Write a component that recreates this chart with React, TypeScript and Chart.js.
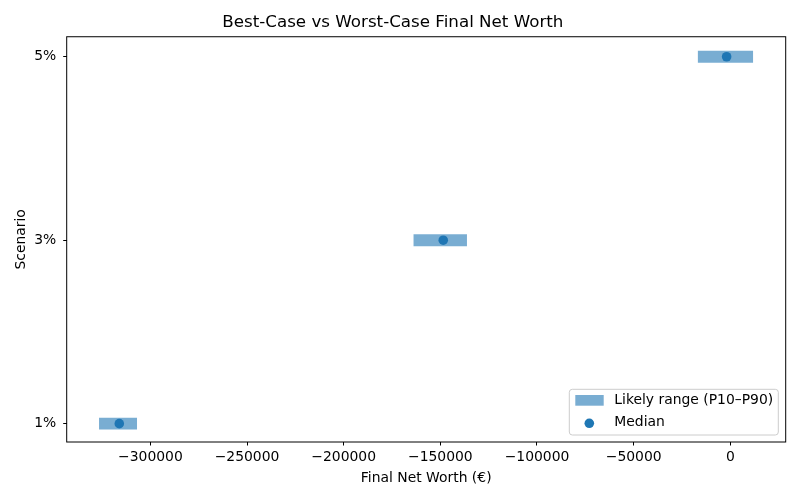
import { useEffect, useRef } from 'react'
import { Chart, registerables } from 'chart.js'

Chart.register(...registerables)

// scenario return rates (%) and final net worth stats (€)
const scenarios = [1, 3, 5]
const p10 = [-326400, -163700, -16600]
const p90 = [-307100, -136400, 11600]
const medians = [-316100, -148500, -1900]
const xTicks = [-300000, -250000, -200000, -150000, -100000, -50000, 0]

const BLUE = '#1f77b4'
const BLUE_A = 'rgba(31,119,180,0.6)'
const FONT = 'DejaVu Sans'

const fmt = (v: number) => (v < 0 ? '\u2212' + Math.abs(v) : String(v))

const frameAndLegend = {
  id: 'frameAndLegend',
  afterDraw(chart: any) {
    const { ctx, chartArea: a } = chart
    ctx.save()
    ctx.strokeStyle = '#000'
    ctx.lineWidth = 1
    ctx.strokeRect(a.left, a.top, a.right - a.left, a.bottom - a.top)

    // legend box, lower right
    const lx = a.right - 216.4
    const ly = a.bottom - 52.7
    const w = 209
    const h = 45.7
    const r = 3
    ctx.beginPath()
    ctx.moveTo(lx + r, ly)
    ctx.arcTo(lx + w, ly, lx + w, ly + h, r)
    ctx.arcTo(lx + w, ly + h, lx, ly + h, r)
    ctx.arcTo(lx, ly + h, lx, ly, r)
    ctx.arcTo(lx, ly, lx + w, ly, r)
    ctx.closePath()
    ctx.fillStyle = 'rgba(255,255,255,0.8)'
    ctx.fill()
    ctx.strokeStyle = '#cccccc'
    ctx.stroke()

    ctx.fillStyle = BLUE_A
    ctx.fillRect(lx + 6, ly + 5.7, 28.4, 10.7)
    ctx.fillStyle = BLUE
    ctx.beginPath()
    ctx.arc(lx + 20, ly + 34, 4.8, 0, Math.PI * 2)
    ctx.fill()

    ctx.fillStyle = '#000'
    ctx.font = `13.9px "${FONT}"`
    ctx.textBaseline = 'middle'
    ctx.textAlign = 'left'
    ctx.fillText('Likely range (P10\u2013P90)', lx + 45, ly + 11.5)
    ctx.fillText('Median', lx + 45, ly + 33)
    ctx.restore()
  },
}

const RangeChart = () => {
  const chartRef = useRef<HTMLCanvasElement>(null)

  useEffect(() => {
    if (!chartRef.current) return
    Chart.defaults.font.family = FONT
    Chart.defaults.color = '#000'

    const chart = new Chart(chartRef.current, {
      type: 'bar',
      data: {
        datasets: [
          {
            type: 'bar',
            label: 'Likely range (P10\u2013P90)',
            data: scenarios.map((s, i) => ({ y: s, x: [p10[i], p90[i]] })) as any,
            backgroundColor: BLUE_A,
            borderWidth: 0,
            barThickness: 11.2,
          },
          {
            type: 'scatter',
            label: 'Median',
            data: scenarios.map((s, i) => ({ x: medians[i], y: s })),
            backgroundColor: BLUE,
            borderWidth: 0,
            pointRadius: 4.8,
            pointHoverRadius: 4.8,
          } as any,
        ],
      },
      options: {
        indexAxis: 'y',
        animation: false,
        responsive: false,
        layout: { padding: { left: 0, right: 14.3, top: 0, bottom: 0 } },
        plugins: {
          legend: { display: false },
          tooltip: { enabled: false },
          title: {
            display: true,
            text: 'Best-Case vs Worst-Case Final Net Worth',
            font: { size: 16.7, weight: 'normal' },
            color: '#000',
            padding: { top: 12.5, bottom: 4.2 },
          },
        },
        scales: {
          x: {
            type: 'linear',
            min: -343300,
            max: 28660,
            afterBuildTicks: (s: any) => {
              s.ticks = xTicks.map((v) => ({ value: v }))
            },
            afterFit: (s: any) => {
              s.height = 58
            },
            ticks: {
              font: { size: 13.9 },
              padding: 4,
              maxRotation: 0,
              callback: (v: any) => fmt(Number(v)),
            },
            grid: { drawOnChartArea: false, tickLength: 3.5, tickColor: '#000' },
            border: { display: false },
            title: {
              display: true,
              text: 'Final Net Worth (\u20ac)',
              font: { size: 13.9 },
              padding: { top: 0, bottom: 13.7 },
            },
          },
          y: {
            type: 'linear',
            min: 0.8,
            max: 5.218,
            offset: false,
            afterBuildTicks: (s: any) => {
              s.ticks = scenarios.map((v) => ({ value: v }))
            },
            afterFit: (s: any) => {
              s.width = 66.7
            },
            ticks: {
              font: { size: 13.9 },
              padding: 7,
              callback: (v: any) => v + '%',
            },
            grid: { drawOnChartArea: false, offset: false, tickLength: 3.5, tickColor: '#000' },
            border: { display: false },
            title: {
              display: true,
              text: 'Scenario',
              font: { size: 13.9 },
              padding: { top: 13.3, bottom: 0 },
            },
          },
        },
      },
      plugins: [frameAndLegend],
    })

    return () => {
      chart.destroy()
    }
  }, [])

  return (
    <div style={{ position: 'absolute', left: 0, top: 0, width: 800, height: 500, background: '#fff' }}>
      <canvas ref={chartRef} width="800" height="500" />
    </div>
  )
}

export default function App() {
  return <RangeChart />
}
